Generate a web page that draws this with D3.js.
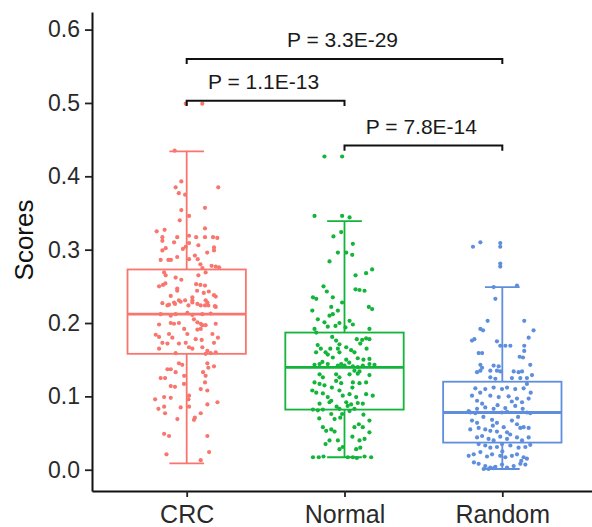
<!DOCTYPE html>
<html>
<head>
<meta charset="utf-8">
<script src="https://cdn.jsdelivr.net/npm/d3@7/dist/d3.min.js"></script>
<style>
  html, body { margin: 0; padding: 0; background: #fff; }
  svg { display: block; font-family: "Liberation Sans", Arial, sans-serif; }
</style>
</head>
<body>
<div id="chart"></div>
<script>
// groups + colours
const groups = ['CRC', 'Normal', 'Random'];
const colors = ['#F8766D', '#12B43A', '#5F8EDD'];

// box stats
const whiskLow = [0.0086, 0.017, 0.001];
const q1 = [0.158, 0.082, 0.037];
const median = [0.212, 0.1395, 0.078];
const q3 = [0.273, 0.187, 0.120];
const whiskHigh = [0.434, 0.339, 0.249];

const yTicks = [0.0, 0.1, 0.2, 0.3, 0.4, 0.5, 0.6];

// comparisons: [from, to, y, label]
const comparisons = [
  ['CRC', 'Random', 0.560, 'P = 3.3E-29'],
  ['CRC', 'Normal', 0.503, 'P = 1.1E-13'],
  ['Normal', 'Random', 0.442, 'P = 7.8E-14'],
];

// jittered points: [offset in category units, score]
const crcPoints = [
  [-0.076,0.435],[-0.034,0.393],[-0.070,0.385],[-0.050,0.377],[-0.010,0.375],[0.200,0.385],[-0.034,0.354],[0.116,0.357],
  [0.015,0.346],[-0.044,0.340],[-0.190,0.325],[-0.140,0.327],[0.116,0.329],[-0.154,0.317],[-0.060,0.317],[0.015,0.319],
  [0.060,0.317],[0.116,0.317],[0.167,0.317],[0.194,0.316],[-0.154,0.312],[-0.080,0.310],[-0.006,0.304],[0.015,0.309],
  [0.074,0.306],[0.173,0.303],[0.173,0.299],[-0.154,0.299],[-0.133,0.302],[0.130,0.296],[-0.024,0.301],[0.052,0.292],
  [0.070,0.287],[0.087,0.280],[0.100,0.275],[0.120,0.269],[-0.165,0.286],[-0.116,0.286],[-0.100,0.286],[-0.060,0.290],
  [0.015,0.287],[0.158,0.278],[0.184,0.277],[0.205,0.276],[-0.143,0.269],[-0.133,0.265],
  [-0.070,0.262],[-0.034,0.259],[0.074,0.265],[-0.175,0.250],[-0.150,0.252],[-0.135,0.254],[-0.060,0.247],[-0.060,0.244],
  [0.060,0.253],[0.087,0.252],[0.116,0.251],[0.066,0.244],[0.108,0.241],[0.140,0.243],[0.173,0.238],[0.184,0.236],
  [-0.101,0.237],[0.036,0.235],[0.036,0.231],[-0.049,0.231],[0.120,0.231],[0.137,0.224],[-0.154,0.227],[-0.122,0.224],
  [-0.074,0.226],[-0.010,0.231],[0.011,0.224],[0.089,0.224],[0.179,0.223],
  [-0.112,0.225],[-0.080,0.228],[-0.038,0.229],[0.036,0.228],[0.068,0.226],[0.116,0.224],[0.184,0.222],[0.131,0.228],
  [-0.165,0.212],[-0.101,0.210],[-0.070,0.212],[0.004,0.214],[0.036,0.211],[0.099,0.212],[0.152,0.213],
  [-0.175,0.198],[-0.101,0.200],[-0.080,0.199],[-0.049,0.200],[0.046,0.205],[0.068,0.201],[0.089,0.199],[0.099,0.197],
  [0.120,0.197],[0.184,0.199],[-0.016,0.192],[0.004,0.185],[-0.196,0.184],[-0.175,0.181],[-0.112,0.185],[-0.091,0.180],
  [0.068,0.191],[0.089,0.192],[0.163,0.185],[0.198,0.180],[-0.154,0.173],[-0.122,0.172],[-0.049,0.172],[-0.006,0.173],
  [0.057,0.178],[0.095,0.177],[0.173,0.173],[-0.175,0.165],[0.015,0.167],[0.036,0.165],[0.099,0.167],[0.131,0.162],
  [0.152,0.159],[0.184,0.160],[0.120,0.158],[-0.070,0.159],
  [-0.049,0.145],[-0.028,0.143],[0.131,0.145],[0.173,0.141],[0.137,0.139],[-0.122,0.137],[-0.101,0.137],[-0.070,0.133],
  [0.104,0.133],[0.120,0.128],[-0.165,0.125],[-0.137,0.125],[-0.016,0.128],[0.116,0.119],[-0.101,0.114],[-0.074,0.113],
  [-0.017,0.117],[0.089,0.110],[0.131,0.108],[-0.200,0.096],[-0.143,0.099],[-0.101,0.098],[0.015,0.101],[0.011,0.096],
  [0.195,0.092],[0.131,0.089],[-0.179,0.083],[-0.143,0.086],[-0.038,0.085],[0.015,0.086],[-0.137,0.077],[0.089,0.077],
  [0.052,0.071],[0.046,0.068],[-0.059,0.069],[-0.143,0.049],[-0.112,0.046],[0.131,0.046],[-0.128,0.021],[0.142,0.024],
  [0.089,0.013],[-0.006,0.499],[0.099,0.499],
];

const normalPoints = [
  [-0.127,0.427],[-0.015,0.427],[-0.190,0.346],[-0.015,0.346],[0.032,0.344],
  [-0.021,0.324],[-0.070,0.318],[0.053,0.308],[-0.042,0.296],[0.011,0.296],[0.049,0.293],[-0.095,0.284],
  [0.070,0.265],[0.137,0.268],[0.175,0.273],[-0.133,0.250],[-0.112,0.243],[-0.200,0.235],[-0.179,0.233],[-0.074,0.235],
  [0.070,0.246],[0.095,0.245],[0.127,0.244],[-0.015,0.228],[-0.084,0.222],[-0.204,0.217],[0.154,0.222],[0.175,0.219],
  [-0.095,0.210],[-0.074,0.212],[-0.042,0.217],[-0.169,0.205],[-0.127,0.201],[-0.106,0.195],[-0.057,0.196],[-0.032,0.200],
  [0.032,0.203],[0.053,0.198],[0.006,0.194],[0.158,0.192],[-0.179,0.187],[-0.190,0.192],
  [-0.170,0.170],[-0.150,0.165],[-0.180,0.160],[-0.106,0.157],[-0.078,0.181],[-0.053,0.176],[-0.032,0.171],[-0.042,0.165],
  [-0.032,0.160],[0.011,0.167],[0.042,0.163],[0.063,0.160],[0.078,0.178],[0.112,0.177],[0.137,0.179],[0.158,0.178],
  [-0.074,0.153],[0.011,0.150],[0.084,0.152],[0.120,0.150],[0.158,0.151],
  [-0.190,0.143],[-0.158,0.144],[-0.106,0.144],[-0.042,0.142],[-0.021,0.144],[0.000,0.142],[0.053,0.141],[0.084,0.140],
  [0.116,0.142],[0.158,0.144],[0.190,0.143],[0.063,0.135],[0.084,0.131],[0.095,0.134],
  [-0.158,0.130],[-0.137,0.126],[-0.053,0.130],[-0.032,0.126],[0.032,0.130],[0.158,0.129],
  [-0.190,0.119],[-0.158,0.117],[-0.127,0.115],[-0.053,0.121],[-0.021,0.118],[0.053,0.119],[0.095,0.118],[0.137,0.119],
  [-0.204,0.108],[-0.179,0.105],[-0.137,0.104],[-0.106,0.099],[-0.084,0.094],[-0.032,0.108],[-0.011,0.101],[0.032,0.103],
  [0.074,0.099],[0.137,0.103],[0.179,0.101],[-0.158,0.090],[-0.095,0.092],[0.011,0.092],[0.042,0.089],[0.084,0.091],
  [0.116,0.090],[-0.200,0.082],[-0.169,0.081],[-0.137,0.082],[-0.032,0.083],[-0.015,0.076],[-0.027,0.071],[0.032,0.080],
  [0.063,0.083],[-0.084,0.076],[-0.063,0.069],[0.091,0.062],[0.116,0.058],[0.158,0.067],
  [-0.137,0.058],[-0.116,0.053],[-0.084,0.055],[-0.063,0.052],[0.063,0.058],
  [-0.095,0.040],[-0.042,0.040],[0.095,0.040],[0.127,0.042],[0.158,0.051],[-0.032,0.028],[-0.011,0.031],[0.074,0.028],
  [-0.200,0.017],[-0.163,0.017],[-0.133,0.018],[0.021,0.017],[0.053,0.017],[0.078,0.016],[0.127,0.018],[0.169,0.017],
  [-0.120,0.160],[-0.090,0.165],[0.100,0.172],[0.140,0.165],[0.030,0.146],[-0.140,0.147],[0.050,0.112],[-0.080,0.112],
  [0.020,0.087],[-0.050,0.086],[0.120,0.075],[-0.160,0.070],[0.050,0.045],[-0.120,0.035],[0.100,0.030],
];

const randomPoints = [
  [-0.186,0.304],[-0.139,0.310],[-0.013,0.309],[-0.013,0.304],[-0.013,0.281],[-0.013,0.277],
  [-0.055,0.249],[0.093,0.251],[-0.044,0.233],[-0.093,0.203],[0.139,0.203],[-0.139,0.192],[-0.122,0.190],[0.198,0.190],
  [0.167,0.180],[-0.192,0.176],[-0.177,0.178],[-0.034,0.175],[-0.013,0.169],[0.019,0.169],[0.051,0.169],[0.139,0.169],
  [0.139,0.162],[-0.150,0.159],[-0.128,0.159],[0.110,0.154],[0.131,0.153],[-0.139,0.143],[-0.128,0.139],[-0.055,0.142],
  [-0.023,0.141],[0.177,0.143],[-0.160,0.133],[-0.139,0.135],[-0.076,0.135],[-0.034,0.135],[-0.013,0.134],[0.072,0.134],
  [0.103,0.133],[0.125,0.134],[0.188,0.129],[-0.076,0.126],[-0.044,0.124],[0.061,0.125],[0.114,0.125],[0.156,0.125],
  [0.156,0.117],
  [-0.171,0.111],[-0.108,0.110],[-0.055,0.112],[-0.002,0.110],[0.030,0.112],[0.082,0.110],[0.135,0.111],
  [-0.192,0.101],[-0.160,0.094],[-0.128,0.090],[-0.076,0.101],[-0.023,0.099],[0.040,0.100],[0.093,0.097],[0.125,0.092],
  [0.167,0.097],[-0.108,0.085],[-0.055,0.083],[0.019,0.084],[0.082,0.087],[0.129,0.083],[-0.213,0.080],[-0.160,0.083],
  [-0.203,0.078],[-0.171,0.077],[-0.002,0.078],[0.030,0.079],[0.156,0.078],[0.177,0.077],
  [-0.192,0.067],[-0.160,0.064],[-0.065,0.068],[-0.034,0.064],[0.061,0.067],[0.093,0.062],[0.114,0.057],[0.135,0.058],
  [0.167,0.057],[-0.203,0.055],[-0.150,0.057],[-0.108,0.055],[-0.076,0.053],[-0.034,0.052],[0.009,0.058],[0.030,0.051],
  [-0.160,0.044],[-0.128,0.046],[-0.087,0.042],[-0.055,0.040],[-0.013,0.045],[0.030,0.042],[0.093,0.044],[0.125,0.040],
  [0.167,0.044],[-0.150,0.035],[-0.108,0.033],[-0.076,0.030],[-0.034,0.031],[-0.002,0.035],[0.051,0.033],[0.103,0.030],
  [0.146,0.031],[0.177,0.034],[-0.213,0.019],[-0.181,0.021],[-0.139,0.024],[-0.097,0.018],[-0.065,0.021],[-0.013,0.019],
  [0.019,0.017],[0.061,0.019],[0.093,0.021],[0.135,0.017],[0.156,0.015],[-0.150,0.008],[-0.108,0.005],[-0.076,0.003],
  [-0.044,0.004],[-0.002,0.007],[0.030,0.003],[0.072,0.005],[0.114,0.008],[0.146,0.007],[-0.118,0.001],[-0.087,0.001],
  [-0.055,0.002],[-0.060,0.060],[0.050,0.048],[-0.120,0.072],[0.100,0.072],[-0.030,0.088],[0.060,0.093],[-0.140,0.105],
  [0.180,0.105],[0.000,0.025],[0.120,0.012],[-0.180,0.010],
];
const pointSets = [crcPoints, normalPoints, randomPoints];

const W = 592, H = 527;
const svg = d3.select('#chart').append('svg').attr('width', W).attr('height', H);

// scales
const x = d3.scalePoint().domain(groups).range([92, 597]).padding(0.6);
const step = x.step();
const y = d3.scaleLinear().domain([-0.029, 0.624]).range([491, 12]);

// axes
const yAxis = svg.append('g').attr('transform', 'translate(92,0)')
  .call(d3.axisLeft(y).tickValues(yTicks).tickFormat(d3.format('.1f')).tickSize(7).tickSizeOuter(0).tickPadding(5));
const xAxis = svg.append('g').attr('transform', 'translate(0,491)')
  .call(d3.axisBottom(x).tickSize(6).tickSizeOuter(0).tickPadding(7));
[yAxis, xAxis].forEach(a => {
  a.select('.domain').attr('stroke', '#111').attr('stroke-width', 2);
  a.selectAll('.tick line').attr('stroke', '#222').attr('stroke-width', 1.8);
});
yAxis.selectAll('.tick text').attr('font-size', 23).attr('fill', '#2a2a2a').attr('font-family', null);
xAxis.selectAll('.tick text').attr('font-size', 25).attr('fill', '#2a2a2a').attr('font-family', null).attr('dy', '0.75em');

svg.append('text')
  .attr('transform', 'translate(33,240) rotate(-90)')
  .attr('text-anchor', 'middle').attr('font-size', 26).attr('fill', '#111')
  .text('Scores');

// boxes
const boxHalf = step * 0.375;
const capHalf = step * 0.11;
const gBox = svg.append('g');
groups.forEach((gname, i) => {
  const cx = x(gname);
  const g = gBox.append('g').attr('stroke', colors[i]).attr('fill', 'none').attr('stroke-width', 1.8);
  g.append('line').attr('x1', cx).attr('x2', cx).attr('y1', y(q3[i])).attr('y2', y(whiskHigh[i]));
  g.append('line').attr('x1', cx).attr('x2', cx).attr('y1', y(q1[i])).attr('y2', y(whiskLow[i]));
  g.append('line').attr('x1', cx - capHalf).attr('x2', cx + capHalf).attr('y1', y(whiskHigh[i])).attr('y2', y(whiskHigh[i]));
  g.append('line').attr('x1', cx - capHalf).attr('x2', cx + capHalf).attr('y1', y(whiskLow[i])).attr('y2', y(whiskLow[i]));
  g.append('rect').attr('x', cx - boxHalf).attr('width', boxHalf * 2)
    .attr('y', y(q3[i])).attr('height', y(q1[i]) - y(q3[i]));
  g.append('line').attr('x1', cx - boxHalf).attr('x2', cx + boxHalf)
    .attr('y1', y(median[i])).attr('y2', y(median[i])).attr('stroke-width', 2.8);
});

// jittered points
const gPts = svg.append('g');
groups.forEach((gname, i) => {
  gPts.append('g').attr('fill', colors[i])
    .selectAll('circle').data(pointSets[i]).join('circle')
    .attr('cx', d => x(gname) + d[0] * step)
    .attr('cy', d => y(d[1]))
    .attr('r', 2.1);
});

// significance brackets
const tip = 0.007;
const gSig = svg.append('g');
comparisons.forEach(([a, b, yv, label]) => {
  const x1 = x(a), x2 = x(b);
  gSig.append('path')
    .attr('d', `M${x1},${y(yv - tip)}V${y(yv)}H${x2}V${y(yv - tip)}`)
    .attr('fill', 'none').attr('stroke', '#111').attr('stroke-width', 2);
  gSig.append('text')
    .attr('x', (x1 + x2) / 2 - 2).attr('y', y(yv) - 12)
    .attr('text-anchor', 'middle').attr('font-size', 21).attr('fill', '#1a1a1a')
    .text(label);
});
</script>
</body>
</html>
